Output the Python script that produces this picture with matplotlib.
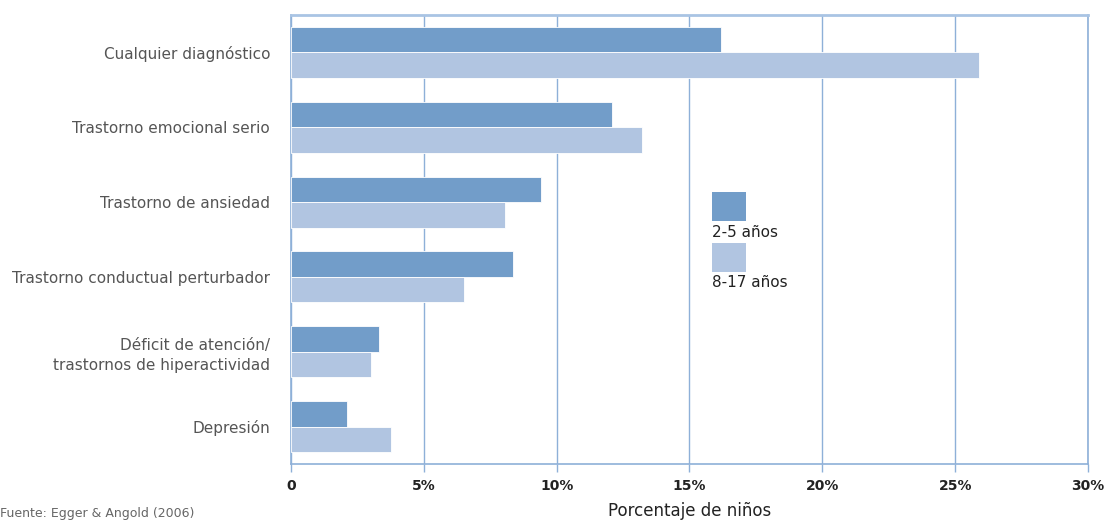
import numpy as np
import matplotlib.pyplot as plt
import matplotlib.patches as mpatches

categories = ['Cualquier diagnóstico', 'Trastorno emocional serio', 'Trastorno de ansiedad',
              'Trastorno conductual perturbador', 'Déficit de atención/\ntrastornos de hiperactividad',
              'Depresión']
age_2_5 = [16.2, 12.1, 9.4, 8.35, 3.3, 2.1]
age_8_17 = [25.9, 13.2, 8.05, 6.5, 3.0, 3.75]
series_labels = ['2-5 años', '8-17 años']
xticks = [0, 5, 10, 15, 20, 25, 30]
xtick_labels = ['0', '5%', '10%', '15%', '20%', '25%', '30%']

dark = '#729dc9'
light = '#b1c5e1'
line = '#8eb0d8'

fig = plt.figure(figsize=(11.11, 5.23), dpi=100)
ax = fig.add_axes([0.2619, 0.1128, 0.7174, 0.8585])

y = np.arange(len(categories))
h = 0.34
ax.barh(y - h / 2, age_2_5, height=h, color=dark, edgecolor='white', linewidth=0.6, zorder=3)
ax.barh(y + h / 2, age_8_17, height=h, color=light, edgecolor='white', linewidth=0.6, zorder=3)

ax.set_xlim(0, 30)
ax.set_ylim(len(categories) - 0.5, -0.5)
ax.set_xticks(xticks)
ax.set_xticklabels(xtick_labels, fontsize=10, fontweight='bold', color='#222222')
ax.set_yticks(y)
ax.set_yticklabels(categories, fontsize=11, color='#555555', linespacing=1.4)
ax.tick_params(axis='y', length=0, pad=15)
ax.tick_params(axis='x', length=6, color=line, width=1.0, pad=5)

ax.grid(axis='x', color=line, linewidth=1.0, zorder=0)
for side in ['left', 'right', 'bottom']:
    ax.spines[side].set_color(line)
    ax.spines[side].set_linewidth(1.2)
ax.spines['top'].set_color('#a9c4e4')
ax.spines['top'].set_linewidth(2)

# x label sits at the very bottom edge, as in the source
fig.text(0.621, 0.006, 'Porcentaje de niños', fontsize=12, color='#222222',
         ha='center', va='bottom')

# legend: squares with text underneath
for i, (lab, col) in enumerate(zip(series_labels, [dark, light])):
    y0 = 0.541 - i * 0.113
    ax.add_patch(mpatches.Rectangle((0.528, y0), 0.043, 0.065, transform=ax.transAxes,
                                    facecolor=col, edgecolor='none', zorder=4))
    ax.text(0.528, y0 - 0.008, lab, transform=ax.transAxes, fontsize=11,
            color='#222222', va='top', ha='left')

fig.text(0.0, 0.006, 'Fuente: Egger & Angold (2006)', fontsize=9, color='#666666',
         ha='left', va='bottom')

plt.savefig('out.png', dpi=100)
plt.close()
